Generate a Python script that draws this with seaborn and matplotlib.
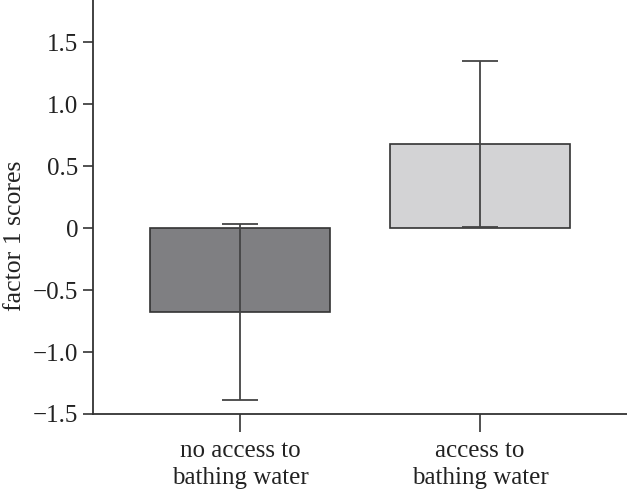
import matplotlib
matplotlib.use("Agg")
import matplotlib.pyplot as plt
import seaborn as sns
import pandas as pd

categories = ["no access to\nbathing water", "access to\nbathing water"]
means = [-0.677, 0.677]
errors = [0.71, 0.67]
yticks = [-1.5, -1.0, -0.5, 0, 0.5, 1.0, 1.5]
ytick_labels = ["\u22121.5", "\u22121.0", "\u22120.5", "0", "0.5", "1.0", "1.5"]
colors = ["#7f7f82", "#d3d3d5"]

sns.set_theme(style="ticks")
plt.rcParams["font.family"] = ["Liberation Serif", "DejaVu Serif"]

df = pd.DataFrame({"group": categories, "score": means})

fig = plt.figure(figsize=(6.27, 4.92), dpi=100)
ax = fig.add_axes([93 / 627, 78 / 492, 1 - 93 / 627, 414 / 492])

sns.barplot(data=df, x="group", y="score", hue="group", palette=colors,
            width=0.75, errorbar=None, legend=False, ax=ax,
            edgecolor="#333333", linewidth=1.2, saturation=1)
ax.errorbar(range(len(means)), means, yerr=errors, fmt="none",
            ecolor="#444444", elinewidth=1.3, capsize=13, capthick=1.3, zorder=5)

ax.set_xlim(-0.6125, 1.6125)
ax.set_ylim(-1.5, 1.84)
ax.set_yticks(yticks)
ax.set_yticklabels(ytick_labels)
ax.set_xlabel("")
ax.set_ylabel("factor 1 scores", fontsize=18.5, color="#222222")
ax.yaxis.set_label_coords(-0.126, 0.43)
ax.tick_params(axis="both", labelsize=18, colors="#333333", labelcolor="#222222",
               width=1.2, length=7)
ax.tick_params(axis="x", length=13, pad=6)
for lbl in ax.get_xticklabels():
    lbl.set_linespacing(1.3)
for s in ["top", "right"]:
    ax.spines[s].set_visible(False)
for s in ["left", "bottom"]:
    ax.spines[s].set_color("#333333")
    ax.spines[s].set_linewidth(1.3)

fig.savefig("out.png", dpi=100)
